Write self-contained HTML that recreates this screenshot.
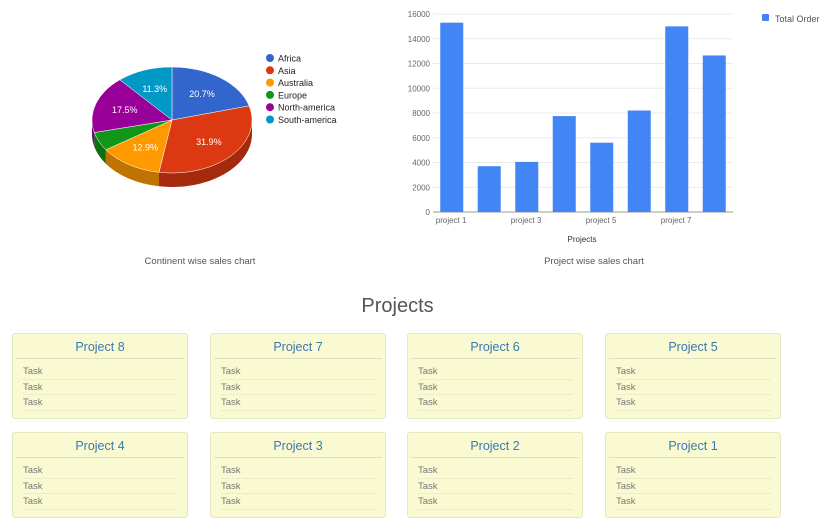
<!DOCTYPE html>
<html><head><meta charset="utf-8"><style>
body{margin:0;width:825px;height:525px;background:#fff;font-family:"Liberation Sans",sans-serif;position:relative;overflow:hidden}
.card{position:absolute;width:176px;height:86px;background:#fafad2;border:1px solid #e6e6c0;border-radius:3px;box-sizing:border-box}
.card h3{margin:0;font-weight:normal;font-size:12.5px;color:#3a78b0;text-align:center;height:24px;line-height:26px;border-bottom:1px solid #e0e0c0;margin:0 3px}
.task{font-size:9.5px;color:#777;margin:0 9px 0 10px;height:14.5px;line-height:15px;border-bottom:1px solid #ececcc}
.card .tasks{padding-top:5px}
</style></head><body>
<svg id="pie" width="400" height="280" style="position:absolute;left:0;top:0"></svg>
<svg id="bar" width="425" height="280" style="position:absolute;top:0;left:400px"></svg>
<div style="position:absolute;left:0;width:795px;top:295px;text-align:center;font-size:20px;color:#555">Projects</div>
<div id="cards"></div>
<script>
const NS='http://www.w3.org/2000/svg';
function mk(p,t,a){const e=document.createElementNS(NS,t);for(const k in a)e.setAttribute(k,a[k]);p.appendChild(e);return e}
// Pie
const pieLabels=['Africa','Asia','Australia','Europe','North-america','South-america'];
const pieValues=[20.7,31.9,12.9,5.7,17.5,11.3];
const pieColors=['#3366cc','#dc3912','#ff9900','#109618','#990099','#0099c6'];
const pieDark=['#24479a','#a52a0d','#c07300','#0c700f','#720072','#007295'];
const pie=document.getElementById('pie');
const cx=172,cy=120,rx=80,ry=53,dep=14;
const tot=pieValues.reduce((a,b)=>a+b,0);
function pt(a,dy){return [cx+rx*Math.sin(a),cy-ry*Math.cos(a)+(dy||0)]}
let a0=0;const ang=[];
pieValues.forEach(v=>{const a1=a0+v/tot*2*Math.PI;ang.push([a0,a1]);a0=a1});
ang.forEach(([s,e],i)=>{
  const lo=Math.max(s,Math.PI/2),hi=Math.min(e,1.5*Math.PI);
  if(hi<=lo)return;
  const p1=pt(lo),p2=pt(hi);
  const d=`M${p1[0]},${p1[1]} A${rx},${ry} 0 0 1 ${p2[0]},${p2[1]} L${p2[0]},${p2[1]+dep} A${rx},${ry} 0 0 0 ${p1[0]},${p1[1]+dep} Z`;
  const el=mk(pie,'path',{d,fill:pieDark[i]});
  
  
});
ang.forEach(([s,e],i)=>{
  const p1=pt(s),p2=pt(e);const large=(e-s)>Math.PI?1:0;
  const el=mk(pie,'path',{d:`M${cx},${cy} L${p1[0]},${p1[1]} A${rx},${ry} 0 ${large} 1 ${p2[0]},${p2[1]} Z`,fill:pieColors[i],stroke:'#fff','stroke-width':0.5});
  
  
  if(pieValues[i]>=8){const m=(s+e)/2;const t=mk(pie,'text',{x:cx+rx*0.62*Math.sin(m),y:cy-ry*0.62*Math.cos(m)+3,'text-anchor':'middle','font-size':9,fill:'#fff'});t.textContent=pieValues[i].toFixed(1)+'%';
  }
});
pieLabels.forEach((l,i)=>{
  const y=58+i*12.3;
  const c=mk(pie,'circle',{cx:270,cy:y,r:4,fill:pieColors[i]});
  
  const t=mk(pie,'text',{x:278,y:y+3.5,'font-size':9,fill:'#222'});t.textContent=l;
  
});
const pt1=mk(pie,'text',{x:200,y:264,'text-anchor':'middle','font-size':9.5,fill:'#555'});pt1.textContent='Continent wise sales chart';

// Bar
const barCats=['project 1','project 2','project 3','project 4','project 5','project 6','project 7','project 8'];
const barValues=[15300,3700,4050,7750,5600,8200,15000,12650];
const yTicks=[0,2000,4000,6000,8000,10000,12000,14000,16000];
const bar=document.getElementById('bar');
const X0=33,X1=333,Y0=212,Y1=14,ymax=16000;
const ys=v=>Y0-(v/ymax)*(Y0-Y1);
const step=(X1-X0)/barCats.length;
const xs=i=>X0+step*(i+0.5);
yTicks.forEach(v=>{
  const l=mk(bar,'line',{x1:X0,x2:X1,y1:ys(v),y2:ys(v),stroke:v?'#ebebeb':'#999','stroke-width':1});
  
  const t=mk(bar,'text',{x:X0-3,y:ys(v)+3,'text-anchor':'end','font-size':8,fill:'#666'});t.textContent=v;
  
});
barValues.forEach((v,i)=>{
  const r=mk(bar,'rect',{x:xs(i)-11.5,y:ys(v),width:23,height:Y0-ys(v),fill:'#4285f4'});
  
  if(i%2==0){const t=mk(bar,'text',{x:xs(i)-16,y:223,'font-size':8,fill:'#666'});t.textContent=barCats[i];
  }
});
const xt=mk(bar,'text',{x:182,y:242,'text-anchor':'middle','font-size':8,fill:'#333'});xt.textContent='Projects';

const lr=mk(bar,'rect',{x:362,y:14,width:7,height:7,fill:'#4285f4',rx:1});

const lt=mk(bar,'text',{x:375,y:22,'font-size':9,fill:'#555'});lt.textContent='Total Order';

const bt=mk(bar,'text',{x:194,y:264,'text-anchor':'middle','font-size':9.5,fill:'#555'});bt.textContent='Project wise sales chart';

// Cards
const cards=document.getElementById('cards');
const names=[8,7,6,5,4,3,2,1];
const cx0=[12,210,407,605],cy0=[333,432];
names.forEach((n,i)=>{
  const d=document.createElement('div');d.className='card';
  
  
  d.style.left=cx0[i%4]+'px';d.style.top=cy0[Math.floor(i/4)]+'px';
  d.innerHTML='<h3>Project '+n+'</h3><div class="tasks">'+
   '<div class="task">Task</div>'.repeat(3)+'</div>';
  cards.appendChild(d);
});
</script>
</body></html>
